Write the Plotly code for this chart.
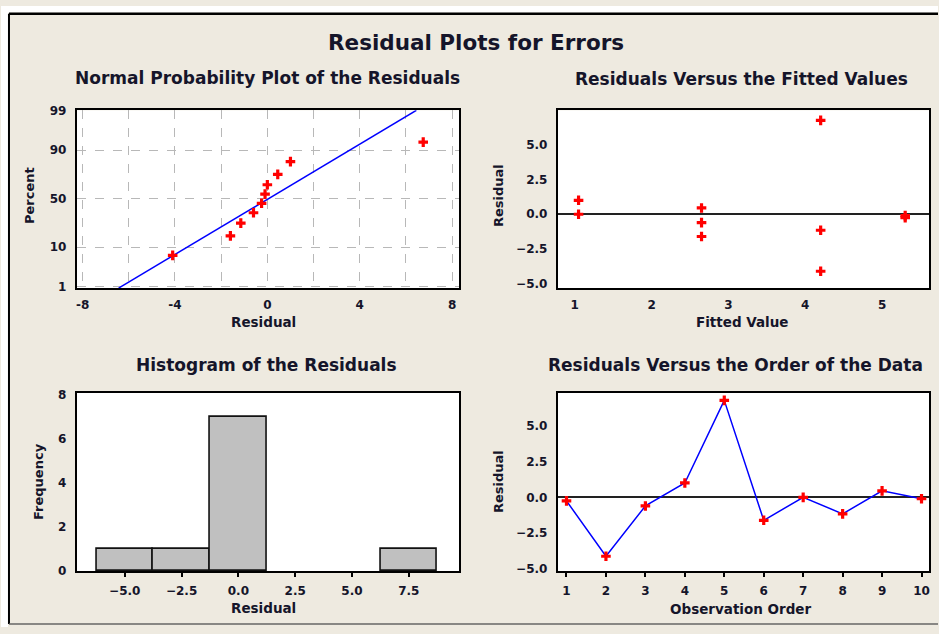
import plotly.graph_objects as go
from statistics import NormalDist, mean, stdev

# ---- data -------------------------------------------------------------
obs_order = [1, 2, 3, 4, 5, 6, 7, 8, 9, 10]
residuals = [-0.25, -4.1, -0.6, 1.0, 6.75, -1.6, 0.0, -1.15, 0.45, -0.1]
fitted = [5.3, 4.2, 2.65, 1.05, 4.2, 2.65, 1.05, 4.2, 2.65, 5.3]

pct_ticks = [1, 10, 50, 90, 99]
npp_xticks = [-8, -6, -4, -2, 0, 2, 4, 6, 8]
npp_xlabels = ["-8", "", "-4", "", "0", "", "4", "", "8"]
resid_ticks = [-5.0, -2.5, 0.0, 2.5, 5.0]
fit_ticks = [1, 2, 3, 4, 5]
hist_ticks = [-5.0, -2.5, 0.0, 2.5, 5.0, 7.5]
freq_ticks = [0, 2, 4, 6, 8]

# ---- styling ----------------------------------------------------------
W, H = 939, 634
BG = "#EEEAE0"
TXT = "#15152a"
FONT = "DejaVu Sans, Verdana, sans-serif"
RED = "#FF0000"
BLUE = "#0000FF"


def px(x):
    return x / W


def py(y):
    return 1 - y / H


nd = NormalDist()

# normal probability plot positions (Minitab style)
n = len(residuals)
sorted_res = sorted(residuals)
pp_z = [nd.inv_cdf((i + 1 - 0.3) / (n + 0.4)) for i in range(n)]
z_lo, z_hi = -2.36, 2.335
mu, sd = mean(residuals), stdev(residuals)
fit_line_x = [mu + sd * z_lo, mu + sd * z_hi]
fit_line_z = [z_lo, z_hi]

marker = dict(symbol="cross", size=8, color=RED, line=dict(width=0))

fig = go.Figure()

# Normal probability plot
fig.add_trace(go.Scatter(x=fit_line_x, y=fit_line_z, mode="lines",
                         line=dict(color=BLUE, width=1.5),
                         xaxis="x", yaxis="y", hoverinfo="skip"))
fig.add_trace(go.Scatter(x=sorted_res, y=pp_z, mode="markers", marker=marker,
                         xaxis="x", yaxis="y"))

# Residuals vs fitted
fig.add_trace(go.Scatter(x=fitted, y=residuals, mode="markers", marker=marker,
                         xaxis="x2", yaxis="y2"))

# Histogram
fig.add_trace(go.Histogram(x=residuals,
                           xbins=dict(start=-6.25, end=8.75, size=2.5),
                           marker=dict(color="#C0C0C0",
                                       line=dict(color="#111111", width=1.6)),
                           xaxis="x3", yaxis="y3"))

# Residuals vs order
fig.add_trace(go.Scatter(x=obs_order, y=residuals, mode="lines+markers",
                         line=dict(color=BLUE, width=1.5), marker=marker,
                         xaxis="x4", yaxis="y4"))

tickfont = dict(family=FONT, size=12, color=TXT, weight="bold")
frame = dict(showline=True, mirror=True, linecolor="#000000", linewidth=2,
             showgrid=False, zeroline=False, tickfont=tickfont, fixedrange=True)

dom_x_left = [px(76), px(459)]
dom_x_right = [px(558), px(930)]
dom_y_top = [py(288), py(106.5)]
dom_y_bot = [py(577), py(395)]

grid = dict(showgrid=True, gridcolor="#B8B8B8", griddash="dash", gridwidth=1)

fig.update_layout(
    width=W, height=H,
    margin=dict(l=0, r=0, t=0, b=0),
    paper_bgcolor=BG, plot_bgcolor="#FFFFFF",
    showlegend=False,
    bargap=0,
    xaxis=dict(frame, **grid, domain=dom_x_left, anchor="y",
               range=[-8.25, 8.3], tickvals=npp_xticks, ticktext=npp_xlabels,
               ticks="", ticklabelstandoff=5),
    yaxis=dict(frame, **grid, domain=dom_y_top, anchor="x",
               range=[z_lo, z_hi],
               tickvals=[nd.inv_cdf(p / 100) for p in pct_ticks],
               ticktext=[str(p) for p in pct_ticks], ticks="", ticklabelstandoff=6),
    xaxis2=dict(frame, domain=dom_x_right, anchor="y2", range=[0.78, 5.61],
                tickvals=fit_ticks, ticks="", ticklabelstandoff=5),
    yaxis2=dict(frame, domain=dom_y_top, anchor="x2", range=[-5.31, 7.47],
                tickvals=resid_ticks, tickformat=".1f", ticks="",
                ticklabelstandoff=6,
                zeroline=True, zerolinecolor="#222222", zerolinewidth=1.5),
    xaxis3=dict(frame, domain=dom_x_left, anchor="y3", range=[-7.11, 9.71],
                tickvals=hist_ticks, tickformat=".1f", ticks="outside",
                ticklen=4, tickwidth=1.5, tickcolor="#000", ticklabelstandoff=3),
    yaxis3=dict(frame, domain=dom_y_bot, anchor="x3", range=[0, 8.08],
                tickvals=freq_ticks, ticks="", ticklabelstandoff=6),
    xaxis4=dict(frame, domain=dom_x_right, anchor="y4", range=[0.78, 10.19],
                tickvals=obs_order, ticks="outside", ticklen=4, tickwidth=1.5,
                tickcolor="#000", ticklabelstandoff=3),
    yaxis4=dict(frame, domain=dom_y_bot, anchor="x4", range=[-5.14, 7.27],
                tickvals=resid_ticks, tickformat=".1f", ticks="",
                ticklabelstandoff=6,
                zeroline=True, zerolinecolor="#222222", zerolinewidth=1.5),
)

# outer window frame
fig.add_shape(type="rect", xref="paper", yref="paper", x0=0, x1=1,
              y0=py(7), y1=1, fillcolor="#FFFFFF", line=dict(width=0))
fig.add_shape(type="rect", xref="paper", yref="paper", x0=0, x1=px(7),
              y0=0, y1=1, fillcolor="#FFFFFF", line=dict(width=0))
fig.add_shape(type="line", xref="paper", yref="paper", x0=px(8), x1=1,
              y0=py(8), y1=py(8), line=dict(color="#000000", width=2.5))
fig.add_shape(type="line", xref="paper", yref="paper", x0=px(8), x1=px(8),
              y0=py(631), y1=py(8), line=dict(color="#000000", width=2))
fig.add_shape(type="line", xref="paper", yref="paper", x0=px(8), x1=1,
              y0=py(631), y1=py(631), line=dict(color="#666666", width=1.5))

def label(text, x, y, size, angle=0, anchor="center"):
    fig.add_annotation(text=text, x=px(x), y=py(y), xref="paper", yref="paper",
                       showarrow=False, xanchor=anchor, yanchor="middle",
                       textangle=angle,
                       font=dict(family=FONT, size=size, color=TXT, weight="bold"))

label("Residual Plots for Errors", 476, 37, 21.5)

label("Normal Probability Plot of the Residuals", 267, 74, 17)
label("Residuals Versus the Fitted Values", 742, 75, 17)
label("Histogram of the Residuals", 266, 367, 17)
label("Residuals Versus the Order of the Data", 546, 367, 17, anchor="left")

label("Residual", 263, 323, 13.5)
label("Percent", 28, 193, 13, -90)
label("Fitted Value", 743, 323, 13.5)
label("Residual", 498, 193, 13, -90)
label("Frequency", 37, 485, 13, -90)
label("Residual", 263, 615, 13.5)
label("Residual", 498, 485, 13, -90)
label("Observation Order", 742, 616, 13.5)

fig.write_html("out.html")
